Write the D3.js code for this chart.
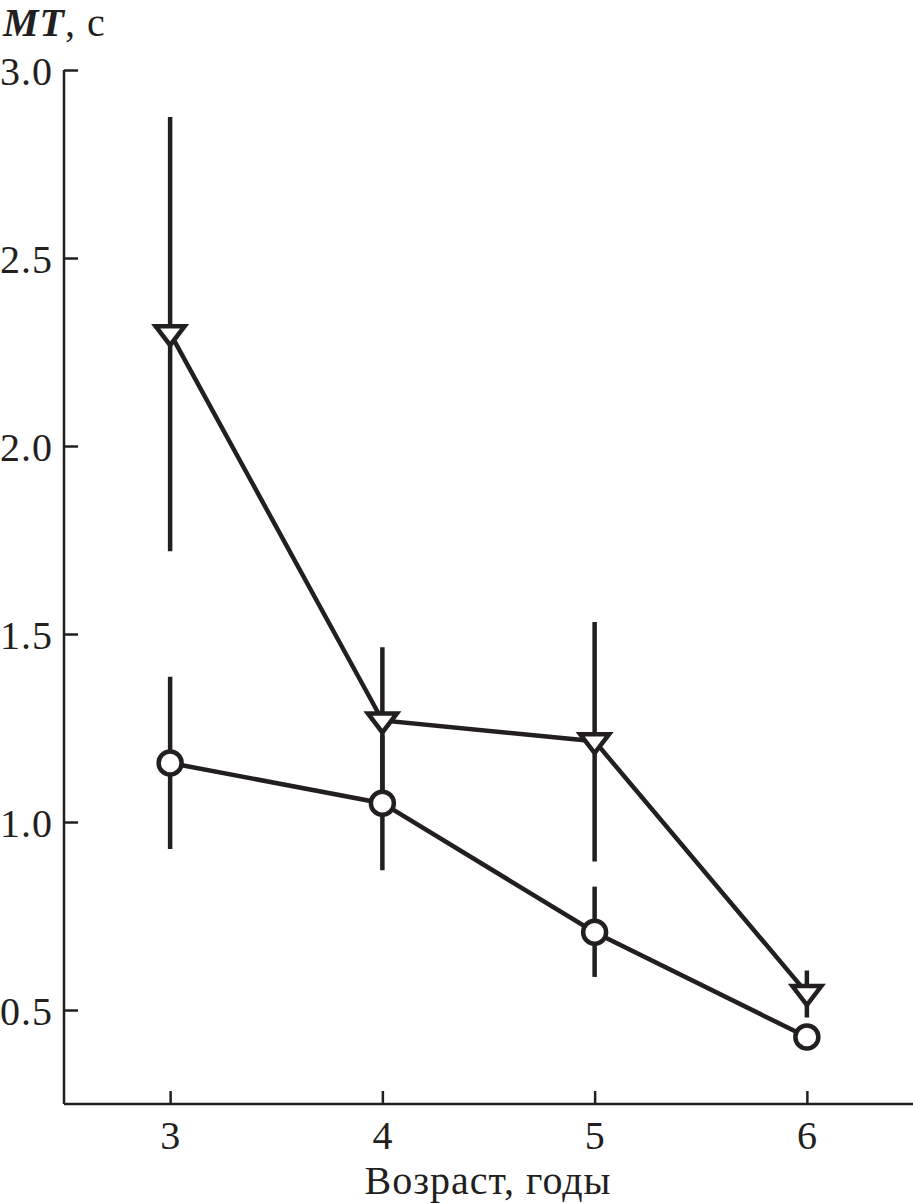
<!DOCTYPE html>
<html><head><meta charset="utf-8">
<script src="https://cdn.jsdelivr.net/npm/d3@7"></script>
<style>body{margin:0;background:#fff}svg{display:block}
text{font-family:"Liberation Serif","Times New Roman","DejaVu Serif",serif !important;letter-spacing:1px;}</style>
</head><body>
<svg id="c" width="913" height="1204"></svg>
<script>
const ages = [3, 4, 5, 6];
const triMean = [2.30, 1.27, 1.215, 0.545];
const triLow  = [1.72, 1.08, 0.895, 0.48];
const triHigh = [2.875, 1.465, 1.532, 0.605];
const circMean = [1.157, 1.05, 0.707, 0.428];
const circLow  = [0.928, 0.872, 0.588, 0.428];
const circHigh = [1.386, 1.23, 0.828, 0.428];
const yTicks = [0.5, 1.0, 1.5, 2.0, 2.5, 3.0];
const xTicks = [3, 4, 5, 6];

const ink = "#231f20";
const svg = d3.select("#c");
const x = d3.scaleLinear().domain([2.5, 6.5]).range([64, 913]);
const y = d3.scaleLinear().domain([0.25, 3.0]).range([1104, 70]);

// axes
const yAx = svg.append("g").attr("transform", "translate(64,0)")
  .call(d3.axisRight(y).tickValues(yTicks).tickSize(14).tickFormat(d3.format(".1f")).tickSizeOuter(0));
yAx.select(".domain").attr("d", `M0,${y(3.0)}V${y(0.25)}`);
yAx.selectAll("line").attr("stroke", ink).attr("stroke-width", 2.5);
yAx.select(".domain").attr("stroke", ink).attr("stroke-width", 2.5);
yAx.selectAll("text").attr("x", -11).attr("text-anchor", "end").attr("dy", "0.35em")
  .attr("font-size", 40).attr("fill", ink);

const xAx = svg.append("g").attr("transform", `translate(0,${y(0.25)})`)
  .call(d3.axisTop(x).tickValues(xTicks).tickSize(13).tickFormat(d3.format("d")).tickSizeOuter(0));
xAx.select(".domain").attr("d", `M${x(2.5)},0H${x(6.5)}`).attr("stroke", ink).attr("stroke-width", 2.5);
xAx.selectAll("line").attr("stroke", ink).attr("stroke-width", 2.5);
xAx.selectAll("text").attr("y", 45).attr("dy", 0).attr("text-anchor", "middle")
  .attr("font-size", 40).attr("fill", ink);

// axis titles
const yt = svg.append("text").attr("x", 3).attr("y", 36)
  .attr("font-size", 40).attr("fill", ink);
yt.append("tspan").attr("font-style", "italic").attr("font-weight", "bold").text("MT");
yt.append("tspan").text(", с");
svg.append("text").attr("x", 488).attr("y", 1194).attr("text-anchor", "middle")
  .attr("font-size", 40).attr("fill", ink)
  .text("Возраст, годы");

const line = d3.line().x(d => x(d[0])).y(d => y(d[1]));
const plot = svg.append("g");

// connecting lines
plot.append("path").attr("d", line(ages.map((a, i) => [a, circMean[i]])))
  .attr("fill", "none").attr("stroke", ink).attr("stroke-width", 4.5);
plot.append("path").attr("d", line(ages.map((a, i) => [a, triMean[i]])))
  .attr("fill", "none").attr("stroke", ink).attr("stroke-width", 4.5);

// error bars
ages.forEach((a, i) => {
  plot.append("line").attr("x1", x(a)).attr("x2", x(a)).attr("y1", y(triLow[i])).attr("y2", y(triHigh[i]))
    .attr("stroke", ink).attr("stroke-width", 4.5);
  plot.append("line").attr("x1", x(a)).attr("x2", x(a)).attr("y1", y(circLow[i])).attr("y2", y(circHigh[i]))
    .attr("stroke", ink).attr("stroke-width", 4.5);
});

// markers
ages.forEach((a, i) => {
  plot.append("circle").attr("cx", x(a)).attr("cy", y(circMean[i])).attr("r", 11.5)
    .attr("fill", "#fff").attr("stroke", ink).attr("stroke-width", 4.5);
  const cx = x(a), cy = y(triMean[i]);
  plot.append("path")
    .attr("d", `M${cx-14.5},${cy-7}L${cx+14.5},${cy-7}L${cx},${cy+12}Z`)
    .attr("fill", "#fff").attr("stroke", ink).attr("stroke-width", 4.5).attr("stroke-linejoin", "miter");
});
</script>
</body></html>
